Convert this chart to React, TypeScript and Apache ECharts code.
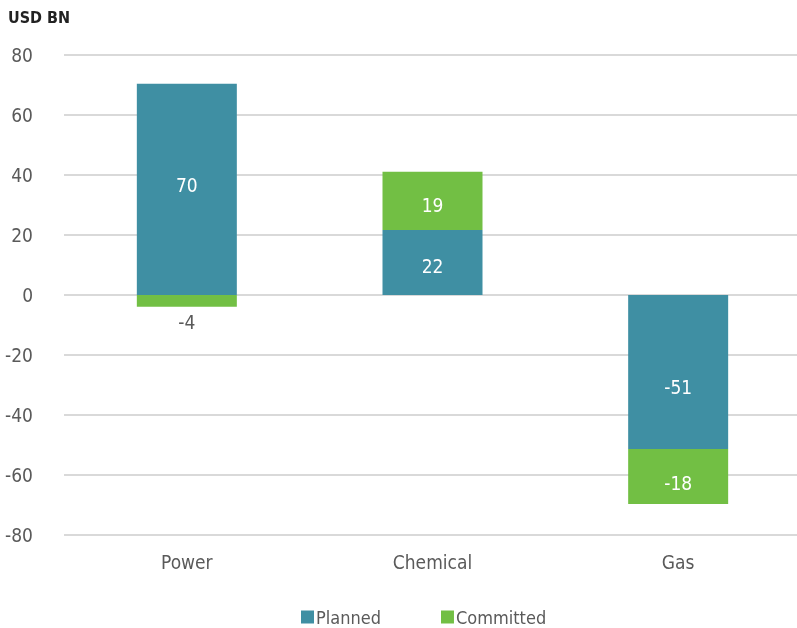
import React, { useEffect, useRef } from "react";
import * as echarts from "echarts";

const categories = ["Power", "Chemical", "Gas"];
const planned = [70.4, 21.7, -51.3];
const committed = [-3.9, 19.4, -18.4];
const yTicks = { min: -80, max: 80, interval: 20 };

const FONT = "'Liberation Sans Narrow', 'DejaVu Sans Condensed', 'Roboto', sans-serif";
const TEXT = "#5a5a5a";

export default function App() {
  const ref = useRef<HTMLDivElement>(null);
  useEffect(() => {
    if (!ref.current) return;
    const chart = echarts.init(ref.current, null, { renderer: "svg" });
    const fmt = (p: any) => String(Math.round(p.value));
    const plannedOffsets = [[0, -4], [0, 4], [0, 15]];
    const committedOffsets = [[0, 0], [0, 4], [0, 6]];
    chart.setOption({
      animation: false,
      textStyle: { fontFamily: FONT },
      graphic: [
        {
          type: "text",
          left: 8,
          top: 9,
          style: { text: "USD BN", font: `bold 16px ${FONT}`, fill: "#222222" },
        },
      ],
      grid: { left: 64, top: 55, right: 5, bottom: 93 },
      legend: {
        left: 296,
        bottom: -3,
        itemWidth: 13,
        itemHeight: 13,
        itemGap: 60,
        icon: "rect",
        textStyle: { fontFamily: FONT, fontSize: 18, color: TEXT, padding: [0, 0, 0, -3] },
        data: ["Planned", "Committed"],
      },
      xAxis: {
        type: "category",
        data: categories,
        axisLine: { show: false },
        axisTick: { show: false },
        axisLabel: { fontFamily: FONT, fontSize: 19, color: TEXT, margin: 17 },
      },
      yAxis: {
        type: "value",
        min: yTicks.min,
        max: yTicks.max,
        interval: yTicks.interval,
        axisLine: { show: false },
        axisTick: { show: false },
        axisLabel: { fontFamily: FONT, fontSize: 19, color: TEXT, margin: 31 },
        splitLine: { lineStyle: { color: "#cccccc", width: 1.5 } },
      },
      series: [
        {
          name: "Planned",
          type: "bar",
          stack: "total",
          barWidth: 100,
          data: planned.map((v, i) => ({ value: v, label: { offset: plannedOffsets[i] } })),
          itemStyle: { color: "#3F8FA3" },
          label: { show: true, position: "inside", color: "#ffffff", fontSize: 19, fontFamily: FONT, formatter: fmt },
        },
        {
          name: "Committed",
          type: "bar",
          stack: "total",
          barWidth: 100,
          data: committed.map((v, i) =>
            i === 0
              ? { value: v, label: { position: "bottom", color: TEXT, distance: 6 } }
              : { value: v, label: { offset: committedOffsets[i] } }
          ),
          itemStyle: { color: "#72BF44" },
          label: { show: true, position: "inside", color: "#ffffff", fontSize: 19, fontFamily: FONT, formatter: fmt },
        },
      ],
    });
    return () => chart.dispose();
  }, []);
  return (
    <div style={{ position: "fixed", left: 0, top: 0, width: 797, height: 628, overflow: "hidden" }}>
      <div ref={ref} style={{ width: 806, height: 628 }} />
    </div>
  );
}
